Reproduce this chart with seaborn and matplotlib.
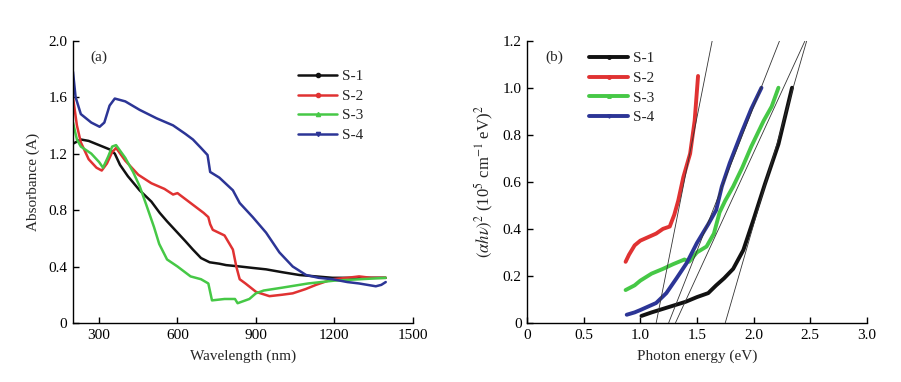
import matplotlib
matplotlib.use("Agg")
import matplotlib.pyplot as plt
import seaborn as sns
import pandas as pd
from matplotlib.lines import Line2D
from matplotlib.ticker import FuncFormatter

sns.set_style("white")
plt.rcParams['font.family'] = ['Liberation Serif', 'DejaVu Serif']
plt.rcParams['mathtext.fontset'] = 'stix'

# ---------------- Panel (a) data: absorbance vs wavelength ----------------
s1_wl = [200, 230, 260, 300, 340, 360, 380, 410, 455, 500, 532, 560, 595, 630, 659, 690, 723, 760, 786, 840, 888, 939, 1000, 1066, 1130, 1193, 1260, 1320, 1397]
s1_ab = [1.27, 1.30, 1.29, 1.26, 1.23, 1.20, 1.12, 1.04, 0.94, 0.86, 0.78, 0.72, 0.65, 0.58, 0.52, 0.46, 0.43, 0.42, 0.41, 0.40, 0.39, 0.38, 0.36, 0.34, 0.33, 0.32, 0.32, 0.32, 0.32]

s2_wl = [200, 215, 230, 260, 290, 310, 330, 350, 365, 400, 450, 500, 550, 583, 600, 650, 700, 718, 725, 735, 780, 812, 825, 838, 860, 901, 952, 1000, 1041, 1090, 1130, 1193, 1250, 1295, 1340, 1397]
s2_ab = [1.60, 1.40, 1.28, 1.16, 1.10, 1.08, 1.13, 1.21, 1.24, 1.15, 1.05, 0.99, 0.95, 0.91, 0.92, 0.85, 0.78, 0.75, 0.70, 0.66, 0.62, 0.52, 0.40, 0.31, 0.28, 0.22, 0.19, 0.20, 0.21, 0.24, 0.27, 0.31, 0.32, 0.33, 0.32, 0.32]

s3_wl = [200, 215, 230, 270, 300, 315, 335, 350, 365, 400, 430, 455, 480, 510, 530, 560, 600, 650, 690, 718, 725, 732, 780, 820, 830, 860, 875, 900, 930, 1000, 1100, 1200, 1300, 1397]
s3_ab = [1.42, 1.30, 1.25, 1.20, 1.14, 1.10, 1.18, 1.25, 1.26, 1.17, 1.07, 0.97, 0.84, 0.68, 0.56, 0.45, 0.40, 0.33, 0.31, 0.28, 0.22, 0.16, 0.17, 0.17, 0.14, 0.16, 0.17, 0.21, 0.23, 0.25, 0.28, 0.30, 0.31, 0.32]

s4_wl = [200, 210, 230, 270, 302, 320, 340, 360, 400, 455, 520, 583, 630, 659, 690, 715, 725, 760, 812, 838, 888, 939, 990, 1041, 1092, 1140, 1193, 1250, 1295, 1359, 1380, 1397]
s4_ab = [1.78, 1.60, 1.48, 1.42, 1.39, 1.42, 1.54, 1.59, 1.57, 1.51, 1.45, 1.40, 1.34, 1.30, 1.24, 1.19, 1.07, 1.03, 0.94, 0.85, 0.75, 0.64, 0.50, 0.40, 0.34, 0.32, 0.31, 0.29, 0.28, 0.26, 0.27, 0.29]

# ---------------- Panel (b) data: Tauc plot ----------------
t1_e = [1.01, 1.1, 1.2, 1.3, 1.4, 1.5, 1.6, 1.67, 1.74, 1.82, 1.91, 2.0, 2.1, 2.22, 2.3, 2.34]
t1_y = [0.03, 0.045, 0.06, 0.075, 0.09, 0.11, 0.127, 0.16, 0.19, 0.23, 0.31, 0.44, 0.59, 0.76, 0.92, 1.0]

t2_e = [0.87, 0.9, 0.95, 1.0, 1.07, 1.14, 1.2, 1.26, 1.3, 1.335, 1.38, 1.44, 1.48, 1.51]
t2_y = [0.26, 0.29, 0.33, 0.35, 0.365, 0.38, 0.40, 0.41, 0.46, 0.52, 0.62, 0.72, 0.86, 1.05]

t3_e = [0.87, 0.95, 1.0, 1.1, 1.2, 1.29, 1.39, 1.43, 1.50, 1.585, 1.65, 1.70, 1.75, 1.82, 1.9, 1.98, 2.09, 2.16, 2.22]
t3_y = [0.14, 0.16, 0.18, 0.21, 0.23, 0.25, 0.27, 0.26, 0.30, 0.325, 0.38, 0.47, 0.52, 0.58, 0.66, 0.75, 0.86, 0.92, 1.0]

t4_e = [0.88, 0.95, 1.0, 1.07, 1.14, 1.23, 1.32, 1.41, 1.50, 1.60, 1.67, 1.72, 1.79, 1.895, 1.98, 2.07]
t4_y = [0.035, 0.045, 0.055, 0.07, 0.085, 0.127, 0.19, 0.255, 0.34, 0.42, 0.48, 0.58, 0.68, 0.81, 0.91, 1.0]

# Tangent (extrapolation) lines: (x at y=0, x at y=1.2)
tan_x0 = [1.75, 1.14, 1.31, 1.25]
tan_x1 = [2.47, 1.635, 2.455, 2.23]
tan_y = [0.0, 1.2]

labels = ["S-1", "S-2", "S-3", "S-4"]
colors = ["#111111", "#e03232", "#46c846", "#2c3596"]
markers = ["o", "o", "^", "v"]

df_a = pd.concat([
    pd.DataFrame({"x": s1_wl, "y": s1_ab, "s": "S-1"}),
    pd.DataFrame({"x": s2_wl, "y": s2_ab, "s": "S-2"}),
    pd.DataFrame({"x": s3_wl, "y": s3_ab, "s": "S-3"}),
    pd.DataFrame({"x": s4_wl, "y": s4_ab, "s": "S-4"}),
])
df_b = pd.concat([
    pd.DataFrame({"x": t1_e, "y": t1_y, "s": "S-1"}),
    pd.DataFrame({"x": t2_e, "y": t2_y, "s": "S-2"}),
    pd.DataFrame({"x": t3_e, "y": t3_y, "s": "S-3"}),
    pd.DataFrame({"x": t4_e, "y": t4_y, "s": "S-4"}),
])

fig = plt.figure(figsize=(9.01, 3.82), dpi=100)
ax1 = fig.add_axes([0.081, 0.1545, 0.377, 0.739])
ax2 = fig.add_axes([0.585, 0.1545, 0.377, 0.739])

pal = dict(zip(labels, colors))
sns.lineplot(data=df_a, x="x", y="y", hue="s", palette=pal, sort=False,
             estimator=None, linewidth=1.8, ax=ax1, legend=False)
sns.lineplot(data=df_b, x="x", y="y", hue="s", palette=pal, sort=False,
             estimator=None, linewidth=2.8, ax=ax2, legend=False)
for x0, x1 in zip(tan_x0, tan_x1):
    ax2.plot([x0, x1], tan_y, color="#333333", linewidth=0.6, zorder=5)

fmt = FuncFormatter(lambda v, p: "0" if abs(v) < 1e-9 else f"{v:.1f}")

ax1.set_xlim(200, 1500)
ax1.set_ylim(0, 2.0)
ax1.set_xticks([300, 600, 900, 1200, 1500])
ax1.set_yticks([0, 0.4, 0.8, 1.2, 1.6, 2.0])
ax1.yaxis.set_major_formatter(fmt)
ax1.set_xlabel("Wavelength (nm)", fontsize=11, labelpad=6)
ax1.set_ylabel("Absorbance (A)", fontsize=11, labelpad=6)
ax1.text(0.05, 0.94, "(a)", transform=ax1.transAxes, fontsize=11, va="center")

ax2.set_xlim(0, 3.0)
ax2.set_ylim(0, 1.2)
ax2.set_xticks([0, 0.5, 1.0, 1.5, 2.0, 2.5, 3.0])
ax2.set_yticks([0, 0.2, 0.4, 0.6, 0.8, 1.0, 1.2])
ax2.yaxis.set_major_formatter(fmt)
ax2.xaxis.set_major_formatter(fmt)
ax2.set_xlabel("Photon energy (eV)", fontsize=11, labelpad=6)
ax2.set_ylabel(r"$(\alpha h\nu)^2$ (10$^5$ cm$^{-1}$ eV)$^2$", fontsize=12, labelpad=5)
ax2.text(0.053, 0.94, "(b)", transform=ax2.transAxes, fontsize=11, va="center")

for ax in (ax1, ax2):
    for side in ("top", "right"):
        ax.spines[side].set_visible(False)
    for side in ("left", "bottom"):
        ax.spines[side].set_color("black")
        ax.spines[side].set_linewidth(1.0)
    ax.tick_params(direction="in", length=4, width=1.0, labelsize=11, pad=4,
                   left=True, bottom=True, colors="black")

h1 = [Line2D([], [], color=c, lw=1.8, marker=m, markersize=3) for c, m in zip(colors, markers)]
ax1.legend(h1, labels, loc="upper left", bbox_to_anchor=(0.63, 0.935), frameon=False,
           fontsize=11, handlelength=2.6, handletextpad=0.3, labelspacing=0.38, borderpad=0.2)
h2 = [Line2D([], [], color=c, lw=2.8, marker=m, markersize=2.5) for c, m in zip(colors, markers)]
ax2.legend(h2, labels, loc="upper left", bbox_to_anchor=(0.15, 1.0), frameon=False,
           fontsize=11, handlelength=2.6, handletextpad=0.3, labelspacing=0.4, borderpad=0.2)

fig.savefig("out.png", dpi=100)
